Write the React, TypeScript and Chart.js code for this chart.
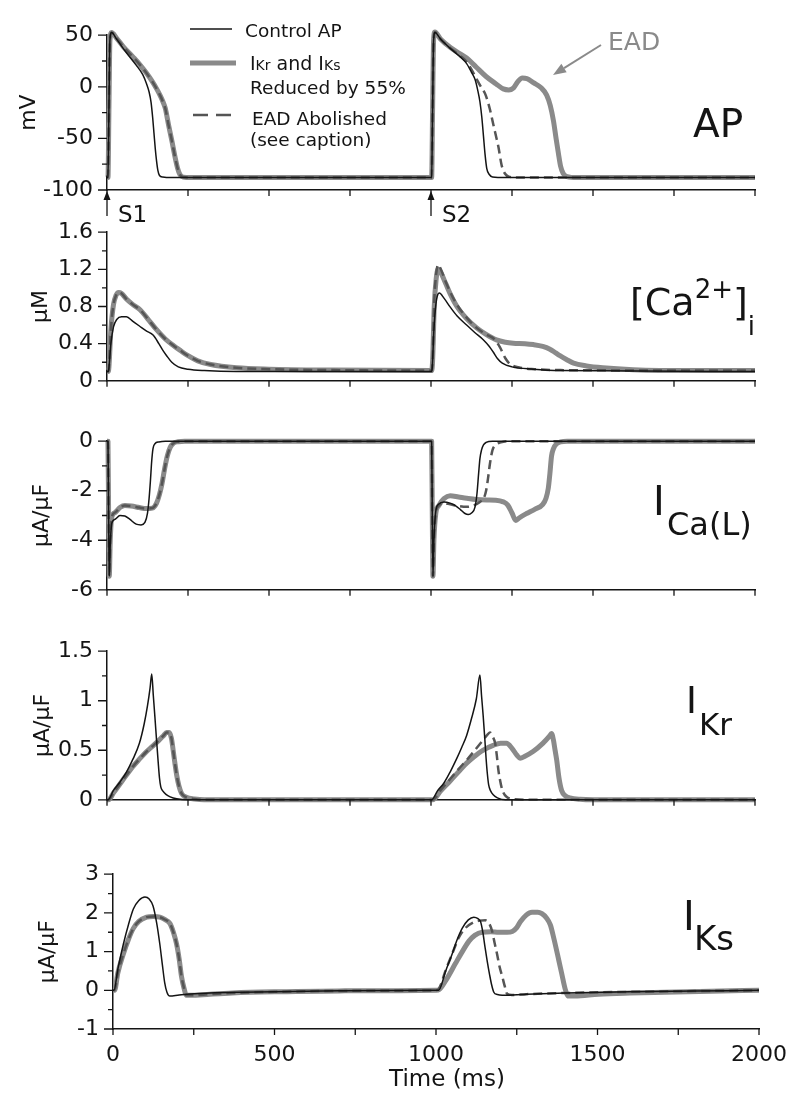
import React, { useEffect, useRef } from "react";
import { Chart, registerables } from "chart.js";

Chart.register(...registerables);

type Pt = [number, number];

// ---------- AP (mV) ----------
const apControl: Pt[] = [
  [0, -88], [3, -88], [6, -20], [9, 45], [14, 52.5], [30, 46], [60, 33], [90, 21], [110, 12], [122, 3],
  [130, -5], [136, -15], [141, -30], [145, -45], [149, -60], [153, -72], [157, -81], [162, -86], [172, -87.5],
  [200, -88], [600, -88], [1000, -88], [1002, -88], [1005, -20], [1008, 45], [1012, 52.5], [1030, 46],
  [1060, 37], [1090, 29], [1110, 22.5], [1125, 14], [1136, 7], [1144, -3], [1151, -14.5], [1157, -30],
  [1162, -48], [1167, -66], [1172, -79], [1180, -85], [1190, -87.5], [1230, -88], [2000, -88],
];
const apReduced: Pt[] = [
  [0, -88], [3, -88], [6, -20], [9, 45], [14, 52.5], [30, 47], [50, 39], [80, 29], [100, 22], [120, 14],
  [140, 5], [155, -3], [165, -9], [172, -14], [180, -21], [190, -37], [200, -52], [210, -68], [218, -79],
  [225, -85], [235, -87.5], [260, -88], [1000, -88], [1002, -88], [1005, -20], [1008, 45], [1012, 53],
  [1030, 46], [1060, 38], [1090, 32], [1110, 28], [1140, 19], [1170, 10], [1200, 3], [1223, -2], [1240, -3],
  [1255, -1], [1268, 5], [1282, 8.5], [1296, 8], [1316, 4], [1340, -1], [1357, -8], [1368, -18], [1378, -33],
  [1386, -50], [1393, -64], [1400, -77], [1408, -84], [1420, -87], [1450, -88], [2000, -88],
];
const apAbolished: Pt[] = [
  [0, -88], [3, -88], [6, -20], [9, 45], [14, 52.5], [30, 47], [50, 39], [80, 29], [100, 22], [120, 14],
  [140, 5], [155, -3], [165, -9], [172, -14], [180, -21], [190, -37], [200, -52], [210, -68], [218, -79],
  [225, -85], [235, -87.5], [260, -88], [1000, -88], [1002, -88], [1005, -20], [1008, 45], [1012, 53],
  [1030, 46], [1060, 37.5], [1090, 30], [1110, 24], [1130, 14], [1145, 5], [1158, -2], [1166, -6],
  [1172, -11], [1182, -22], [1192, -36], [1200, -47], [1208, -58], [1218, -76], [1228, -84], [1240, -87],
  [1270, -88], [2000, -88],
];

// ---------- [Ca2+]i (uM) ----------
const caControl: Pt[] = [
  [0, 0.1], [4, 0.1], [6, 0.14], [12, 0.4], [20, 0.58], [30, 0.66], [45, 0.69], [60, 0.69], [80, 0.64],
  [100, 0.59], [120, 0.54], [143, 0.49], [160, 0.4], [172, 0.33], [184, 0.27], [200, 0.2], [220, 0.15],
  [250, 0.125], [300, 0.11], [400, 0.1], [1000, 0.1], [1002, 0.1], [1004, 0.15], [1009, 0.55], [1015, 0.82],
  [1021, 0.93], [1026, 0.945], [1040, 0.89], [1060, 0.79], [1080, 0.7], [1110, 0.6], [1135, 0.52],
  [1162, 0.44], [1180, 0.37], [1192, 0.31], [1205, 0.24], [1220, 0.19], [1250, 0.15], [1316, 0.125],
  [1400, 0.11], [2000, 0.1],
];
const caReduced: Pt[] = [
  [0, 0.1], [4, 0.1], [6, 0.15], [12, 0.55], [20, 0.82], [28, 0.92], [36, 0.95], [45, 0.94], [60, 0.88],
  [80, 0.82], [102, 0.765], [125, 0.67], [153, 0.55], [180, 0.45], [205, 0.38], [225, 0.33], [250, 0.27],
  [280, 0.215], [320, 0.175], [400, 0.14], [500, 0.125], [700, 0.115], [1000, 0.11], [1002, 0.11],
  [1005, 0.22], [1010, 0.8], [1016, 1.1], [1022, 1.2], [1028, 1.18], [1045, 1.05], [1060, 0.93], [1080, 0.8],
  [1110, 0.67], [1141, 0.57], [1170, 0.5], [1202, 0.44], [1230, 0.415], [1254, 0.405], [1290, 0.4],
  [1316, 0.39], [1345, 0.37], [1367, 0.34], [1385, 0.3], [1398, 0.27], [1418, 0.23], [1440, 0.19],
  [1480, 0.16], [1530, 0.14], [1624, 0.12], [1800, 0.11], [2000, 0.11],
];
const caAbolished: Pt[] = [
  [0, 0.1], [4, 0.1], [6, 0.15], [12, 0.55], [20, 0.82], [28, 0.92], [36, 0.95], [45, 0.94], [60, 0.88],
  [80, 0.82], [102, 0.765], [125, 0.67], [153, 0.55], [180, 0.45], [205, 0.38], [225, 0.33], [250, 0.27],
  [280, 0.215], [320, 0.175], [400, 0.14], [500, 0.125], [700, 0.115], [1000, 0.11], [1002, 0.11],
  [1005, 0.22], [1010, 0.85], [1016, 1.15], [1022, 1.25], [1028, 1.22], [1045, 1.07], [1060, 0.95],
  [1080, 0.82], [1110, 0.68], [1141, 0.57], [1170, 0.5], [1195, 0.45], [1213, 0.36], [1230, 0.24],
  [1244, 0.18], [1270, 0.145], [1320, 0.125], [1400, 0.115], [2000, 0.11],
];

// ---------- ICa(L) (uA/uF) ----------
const icaControl: Pt[] = [
  [0, 0], [3, 0], [5, -3], [7, -5.45], [10, -4.2], [15, -3.3], [25, -3.15], [40, -3.0], [55, -3.02],
  [70, -3.15], [90, -3.35], [105, -3.38], [117, -3.28], [125, -2.9], [130, -2.3], [134, -1.6], [138, -0.8],
  [142, -0.3], [148, -0.1], [160, -0.03], [180, 0], [1000, 0], [1002, 0], [1004, -3], [1006, -5.45],
  [1009, -4.0], [1015, -2.8], [1023, -2.55], [1040, -2.45], [1059, -2.5], [1075, -2.6], [1090, -2.75],
  [1105, -2.92], [1115, -2.96], [1125, -2.9], [1136, -2.65], [1142, -2.1], [1147, -1.3], [1151, -0.7],
  [1156, -0.35], [1162, -0.15], [1170, -0.05], [1190, 0], [2000, 0],
];
const icaReduced: Pt[] = [
  [0, 0], [3, 0], [5, -3], [7, -5.45], [10, -4.0], [15, -3.05], [25, -2.88], [40, -2.68], [55, -2.6],
  [75, -2.62], [100, -2.68], [120, -2.72], [140, -2.7], [153, -2.5], [162, -2.15], [170, -1.7], [178, -1.1],
  [186, -0.6], [195, -0.25], [205, -0.08], [220, -0.02], [240, 0], [1000, 0], [1002, 0], [1004, -3],
  [1006, -5.45], [1009, -4.0], [1015, -2.9], [1023, -2.62], [1040, -2.32], [1059, -2.2], [1085, -2.25],
  [1110, -2.3], [1140, -2.35], [1172, -2.37], [1200, -2.38], [1223, -2.45], [1237, -2.58], [1250, -2.9],
  [1262, -3.2], [1272, -3.1], [1295, -2.92], [1320, -2.75], [1345, -2.55], [1355, -2.3], [1362, -1.9],
  [1367, -1.3], [1372, -0.6], [1378, -0.3], [1388, -0.1], [1400, -0.03], [1420, 0], [2000, 0],
];
const icaAbolished: Pt[] = [
  [0, 0], [3, 0], [5, -3], [7, -5.45], [10, -4.0], [15, -3.05], [25, -2.88], [40, -2.68], [55, -2.6],
  [75, -2.62], [100, -2.68], [120, -2.72], [140, -2.7], [153, -2.5], [162, -2.15], [170, -1.7], [178, -1.1],
  [186, -0.6], [195, -0.25], [205, -0.08], [220, -0.02], [240, 0], [1000, 0], [1002, 0], [1004, -3],
  [1006, -5.45], [1009, -4.0], [1015, -2.9], [1023, -2.62], [1040, -2.5], [1059, -2.55], [1085, -2.62],
  [1110, -2.65], [1130, -2.6], [1151, -2.45], [1163, -2.3], [1170, -2.0], [1176, -1.5], [1182, -0.9],
  [1190, -0.35], [1200, -0.15], [1215, -0.05], [1240, 0], [2000, 0],
];

// ---------- IKr (uA/uF) ----------
const ikrControl: Pt[] = [
  [0, 0], [3, 0], [20, 0.095], [40, 0.18], [60, 0.28], [80, 0.41], [100, 0.57], [115, 0.77], [125, 0.95],
  [133, 1.13], [138, 1.27], [143, 1.05], [148, 0.83], [153, 0.6], [158, 0.38], [162, 0.22], [166, 0.13],
  [172, 0.09], [182, 0.055], [195, 0.03], [215, 0.01], [250, 0], [1000, 0], [1002, 0], [1020, 0.09],
  [1040, 0.17], [1059, 0.28], [1080, 0.42], [1095, 0.53], [1110, 0.65], [1125, 0.82], [1140, 1.02],
  [1151, 1.26], [1156, 1.05], [1161, 0.85], [1166, 0.62], [1170, 0.42], [1174, 0.26], [1178, 0.15],
  [1184, 0.09], [1192, 0.05], [1205, 0.02], [1230, 0], [2000, 0],
];
const ikrReduced: Pt[] = [
  [0, 0], [5, 0], [20, 0.07], [40, 0.16], [60, 0.25], [81, 0.34], [100, 0.41], [120, 0.48], [140, 0.54],
  [160, 0.6], [175, 0.65], [184, 0.68], [192, 0.68], [199, 0.62], [205, 0.48], [210, 0.36], [215, 0.25],
  [222, 0.14], [230, 0.065], [245, 0.025], [270, 0.008], [300, 0], [1000, 0], [1005, 0], [1030, 0.09],
  [1059, 0.19], [1090, 0.3], [1110, 0.37], [1131, 0.43], [1160, 0.5], [1192, 0.55], [1215, 0.57],
  [1233, 0.57], [1250, 0.52], [1265, 0.45], [1275, 0.42], [1290, 0.44], [1316, 0.49], [1345, 0.57],
  [1365, 0.64], [1372, 0.67], [1378, 0.6], [1383, 0.5], [1388, 0.4], [1395, 0.22], [1403, 0.095],
  [1415, 0.04], [1429, 0.02], [1460, 0.005], [1500, 0], [2000, 0],
];
const ikrAbolished: Pt[] = [
  [0, 0], [5, 0], [20, 0.07], [40, 0.16], [60, 0.25], [81, 0.34], [100, 0.41], [120, 0.48], [140, 0.54],
  [160, 0.6], [175, 0.65], [184, 0.68], [192, 0.68], [199, 0.62], [205, 0.48], [210, 0.36], [215, 0.25],
  [222, 0.14], [230, 0.065], [245, 0.025], [270, 0.008], [300, 0], [1000, 0], [1005, 0], [1030, 0.1],
  [1059, 0.21], [1085, 0.31], [1110, 0.4], [1135, 0.5], [1160, 0.6], [1175, 0.66], [1182, 0.68],
  [1190, 0.64], [1198, 0.57], [1203, 0.45], [1208, 0.3], [1213, 0.2], [1220, 0.1], [1233, 0.03],
  [1260, 0.005], [1300, 0], [2000, 0],
];

// ---------- IKs (uA/uF) ----------
const iksControl: Pt[] = [
  [0, 0], [3, 0], [15, 0.55], [32, 1.19], [48, 1.7], [63, 2.1], [80, 2.32], [99, 2.41], [112, 2.36],
  [124, 2.18], [135, 1.75], [145, 1.19], [153, 0.65], [160, 0.2], [167, -0.05], [176, -0.15], [200, -0.13],
  [227, -0.1], [300, -0.07], [400, -0.05], [550, -0.03], [700, -0.01], [1000, 0], [1008, 0], [1030, 0.5],
  [1050, 0.94], [1065, 1.3], [1081, 1.6], [1100, 1.82], [1117, 1.89], [1130, 1.85], [1138, 1.77],
  [1145, 1.5], [1152, 1.1], [1158, 0.78], [1166, 0.4], [1172, 0.15], [1179, -0.05], [1190, -0.11],
  [1205, -0.13], [1280, -0.1], [1400, -0.07], [1600, -0.04], [1800, -0.02], [2000, 0],
];
const iksReduced: Pt[] = [
  [0, 0], [5, 0], [15, 0.45], [32, 0.94], [48, 1.32], [63, 1.6], [80, 1.78], [104, 1.89], [125, 1.91],
  [145, 1.89], [160, 1.83], [176, 1.73], [187, 1.5], [197, 1.19], [205, 0.8], [212, 0.36], [220, 0.05],
  [227, -0.13], [240, -0.13], [300, -0.1], [370, -0.07], [500, -0.04], [700, -0.015], [1000, 0], [1010, 0.02],
  [1030, 0.25], [1060, 0.69], [1080, 0.98], [1102, 1.27], [1120, 1.42], [1143, 1.5], [1170, 1.51],
  [1194, 1.5], [1220, 1.5], [1236, 1.52], [1250, 1.62], [1261, 1.77], [1280, 1.95], [1297, 2.02],
  [1315, 2.02], [1328, 1.98], [1342, 1.87], [1354, 1.69], [1366, 1.3], [1380, 0.78], [1390, 0.4],
  [1400, 0.03], [1410, -0.15], [1430, -0.15], [1503, -0.1], [1600, -0.07], [1708, -0.05], [1850, -0.025],
  [2000, 0],
];
const iksAbolished: Pt[] = [
  [0, 0], [5, 0], [15, 0.45], [32, 0.94], [48, 1.32], [63, 1.6], [80, 1.78], [104, 1.89], [125, 1.91],
  [145, 1.89], [160, 1.83], [176, 1.73], [187, 1.5], [197, 1.19], [205, 0.8], [212, 0.36], [220, 0.05],
  [227, -0.13], [240, -0.13], [300, -0.1], [370, -0.07], [500, -0.04], [700, -0.015], [1000, 0], [1010, 0.05],
  [1030, 0.52], [1050, 0.94], [1070, 1.35], [1090, 1.6], [1115, 1.75], [1135, 1.8], [1153, 1.81],
  [1165, 1.72], [1174, 1.52], [1182, 1.2], [1189, 0.94], [1197, 0.6], [1205, 0.36], [1213, 0.1],
  [1220, -0.09], [1235, -0.12], [1280, -0.1], [1400, -0.07], [1600, -0.04], [1800, -0.02], [2000, 0],
];

// ---------- annotations / axes ----------
const stimTimes = [0, 1000];
const stimLabels = ["S1", "S2"];
const timeMin = 0;
const timeMax = 2000;
const timeStep = 250;
const timeLabelStep = 500;

const FONT = "'DejaVu Sans', 'Liberation Sans', Arial, sans-serif";
const INK = "#141414";
const GRAY = "#8a8a8a";
const DARK = "#555555";
const PAD_TOP = 20;

type Part = { t: string; size: number; dy?: number; x?: number };

function rich(ctx: CanvasRenderingContext2D, x: number, y: number, parts: Part[], color = INK, align: CanvasTextAlign = "left") {
  ctx.save();
  ctx.fillStyle = color;
  ctx.textBaseline = "alphabetic";
  let cx = x;
  if (align === "center") {
    let w = 0;
    for (const p of parts) {
      ctx.font = `${p.size}px ${FONT}`;
      w += ctx.measureText(p.t).width;
    }
    cx = x - w / 2;
  }
  ctx.textAlign = "left";
  for (const p of parts) {
    if (p.x !== undefined) cx = p.x;
    ctx.font = `${p.size}px ${FONT}`;
    ctx.fillText(p.t, cx, y + (p.dy || 0));
    cx += ctx.measureText(p.t).width;
  }
  ctx.restore();
}

function seg(ctx: CanvasRenderingContext2D, x1: number, y1: number, x2: number, y2: number, color: string, w: number, dash: number[] = []) {
  ctx.save();
  ctx.strokeStyle = color;
  ctx.lineWidth = w;
  ctx.setLineDash(dash);
  ctx.beginPath();
  ctx.moveTo(x1, y1);
  ctx.lineTo(x2, y2);
  ctx.stroke();
  ctx.restore();
}

function arrow(ctx: CanvasRenderingContext2D, x1: number, y1: number, x2: number, y2: number, color: string, w: number, head: number, half: number) {
  const a = Math.atan2(y2 - y1, x2 - x1);
  const bx = x2 - head * Math.cos(a);
  const by = y2 - head * Math.sin(a);
  ctx.save();
  ctx.strokeStyle = color;
  ctx.fillStyle = color;
  ctx.lineWidth = w;
  ctx.beginPath();
  ctx.moveTo(x1, y1);
  ctx.lineTo(bx, by);
  ctx.stroke();
  ctx.beginPath();
  ctx.moveTo(x2, y2);
  ctx.lineTo(bx + half * Math.sin(a), by - half * Math.cos(a));
  ctx.lineTo(bx - half * Math.sin(a), by + half * Math.cos(a));
  ctx.closePath();
  ctx.fill();
  ctx.restore();
}

const isMajor = (v: number, m: number) => Math.abs(v / m - Math.round(v / m)) < 1e-6;
const fmt = (v: number) => String(parseFloat(v.toFixed(2)) + 0);

interface Panel {
  id: string;
  top: number;
  bottom: number;
  left: number;
  right: number;
  extra: number;
  yMin: number;
  yMax: number;
  yStep: number;
  yMajor: number;
  yTitle: string;
  titlePad: number;
  control: Pt[];
  reduced: Pt[];
  abolished: Pt[];
  xLabels: boolean;
  draw: (ctx: CanvasRenderingContext2D, chart: Chart, oy: number) => void;
}

const panels: Panel[] = [
  {
    id: "ap", top: 28, bottom: 190, left: 107, right: 755, extra: 35,
    yMin: -100, yMax: 50, yStep: 25, yMajor: 50, yTitle: "mV", titlePad: 16,
    control: apControl, reduced: apReduced, abolished: apAbolished, xLabels: false,
    draw: (ctx, chart, oy) => {
      const Y = (v: number) => v - oy;
      seg(ctx, 190, Y(29), 232, Y(29), INK, 1.5);
      seg(ctx, 190, Y(63), 236, Y(63), GRAY, 5);
      seg(ctx, 193, Y(115), 234, Y(115), DARK, 2.5, [15, 8]);
      rich(ctx, 245, Y(37), [{ t: "Control AP", size: 18.5 }]);
      rich(ctx, 250, Y(70), [
        { t: "I", size: 19 }, { t: "Kr", size: 14 }, { t: " and I", size: 19 }, { t: "Ks", size: 14 },
      ]);
      rich(ctx, 250, Y(94), [{ t: "Reduced by 55%", size: 18.5 }]);
      rich(ctx, 252, Y(125), [{ t: "EAD Abolished", size: 18.5 }]);
      rich(ctx, 250, Y(146), [{ t: "(see caption)", size: 18.5 }]);
      rich(ctx, 608, Y(50), [{ t: "EAD", size: 25 }], GRAY);
      arrow(ctx, 601, Y(45), 553, Y(75), GRAY, 2, 13, 5);
      rich(ctx, 693, Y(137), [{ t: "AP", size: 39 }]);
      const xs = chart.scales.x;
      stimTimes.forEach((t, i) => {
        const x = xs.getPixelForValue(t);
        arrow(ctx, x, Y(216), x, Y(191), INK, 1.3, 9, 3.5);
        rich(ctx, x + 11, Y(222), [{ t: stimLabels[i], size: 23 }]);
      });
    },
  },
  {
    id: "ca", top: 225, bottom: 388, left: 107, right: 755, extra: 20,
    yMin: 0, yMax: 1.6, yStep: 0.2, yMajor: 0.4, yTitle: "\u03bcM", titlePad: 28,
    control: caControl, reduced: caReduced, abolished: caAbolished, xLabels: false,
    draw: (ctx, chart, oy) => {
      const Y = (v: number) => v - oy;
      rich(ctx, 630, Y(315), [
        { t: "[Ca", size: 38 }, { t: "2+", size: 26, dy: -17 }, { t: "]", size: 38 }, { t: "i", size: 26, dy: 20 },
      ]);
    },
  },
  {
    id: "ica", top: 434, bottom: 597, left: 107, right: 755, extra: 20,
    yMin: -6, yMax: 0, yStep: 1, yMajor: 2, yTitle: "\u03bcA/\u03bcF", titlePad: 29,
    control: icaControl, reduced: icaReduced, abolished: icaAbolished, xLabels: false,
    draw: (ctx, chart, oy) => {
      const Y = (v: number) => v - oy;
      rich(ctx, 653, Y(515), [{ t: "I", size: 40 }]);
      rich(ctx, 667, Y(535), [{ t: "Ca(L)", size: 32 }]);
    },
  },
  {
    id: "ikr", top: 644, bottom: 807, left: 107, right: 755, extra: 20,
    yMin: 0, yMax: 1.5, yStep: 0.25, yMajor: 0.5, yTitle: "\u03bcA/\u03bcF", titlePad: 30,
    control: ikrControl, reduced: ikrReduced, abolished: ikrAbolished, xLabels: false,
    draw: (ctx, chart, oy) => {
      const Y = (v: number) => v - oy;
      rich(ctx, 686, Y(713), [{ t: "I", size: 37 }]);
      rich(ctx, 699, Y(735), [{ t: "Kr", size: 31 }]);
    },
  },
  {
    id: "iks", top: 867, bottom: 1029, left: 113, right: 761, extra: 72,
    yMin: -1, yMax: 3, yStep: 0.5, yMajor: 1, yTitle: "\u03bcA/\u03bcF", titlePad: 35,
    control: iksControl, reduced: iksReduced, abolished: iksAbolished, xLabels: true,
    draw: (ctx, chart, oy) => {
      const Y = (v: number) => v - oy;
      rich(ctx, 683, Y(930), [{ t: "I", size: 40 }]);
      rich(ctx, 694, Y(950), [{ t: "Ks", size: 34 }]);
      rich(ctx, 447, Y(1086), [{ t: "Time (ms)", size: 23 }], INK, "center");
    },
  },
];

function drawTicks(c: Chart, p: Panel) {
  const ctx = c.ctx;
  const xs: any = c.scales.x;
  const ys: any = c.scales.y;
  ctx.save();
  ctx.strokeStyle = INK;
  ctx.lineWidth = 1.3;
  ctx.beginPath();
  for (const t of ys.ticks) {
    const py = ys.getPixelForValue(t.value);
    const len = isMajor(t.value, p.yMajor) ? 9 : 5;
    ctx.moveTo(ys.right, py);
    ctx.lineTo(ys.right - len, py);
  }
  for (const t of xs.ticks) {
    const px = xs.getPixelForValue(t.value);
    ctx.moveTo(px, xs.top);
    ctx.lineTo(px, xs.top + 6);
  }
  ctx.stroke();
  ctx.restore();
}

function PanelChart({ p }: { p: Panel }) {
  const ref = useRef<HTMLCanvasElement>(null);
  const canvasTop = p.top - PAD_TOP;
  const height = p.bottom - p.top + PAD_TOP + p.extra;

  useEffect(() => {
    const mk = (pts: Pt[], extra: any) => ({
      data: pts.map(([x, y]) => ({ x, y })),
      pointRadius: 0,
      fill: false,
      cubicInterpolationMode: "monotone",
      borderJoinStyle: "round",
      clip: false,
      ...extra,
    });
    const tickFont = { family: FONT, size: 22 };
    const chart = new Chart(ref.current as HTMLCanvasElement, {
      type: "line",
      data: {
        datasets: [
          mk(p.control, { label: "Control AP", borderColor: INK, borderWidth: 1.5, order: 0 }),
          mk(p.abolished, { label: "EAD Abolished", borderColor: DARK, borderWidth: 2.5, borderDash: [9, 5], order: 1 }),
          mk(p.reduced, { label: "IKr and IKs Reduced by 55%", borderColor: GRAY, borderWidth: 5, order: 2 }),
        ],
      },
      options: {
        responsive: false,
        maintainAspectRatio: false,
        animation: false,
        events: [],
        layout: { padding: { top: PAD_TOP, bottom: 0, left: 0, right: 800 - p.right } },
        plugins: { legend: { display: false }, tooltip: { enabled: false }, title: { display: false } },
        scales: {
          x: {
            type: "linear",
            min: timeMin,
            max: timeMax,
            ticks: {
              stepSize: timeStep,
              autoSkip: false,
              display: p.xLabels,
              maxRotation: 0,
              padding: 13,
              font: tickFont,
              color: INK,
              callback: (v: any) => (isMajor(Number(v), timeLabelStep) ? String(v) : ""),
            },
            grid: { display: false, drawTicks: false },
            border: { display: true, color: INK, width: 1.5 },
            afterFit: (s: any) => {
              s.height = p.extra;
            },
          },
          y: {
            type: "linear",
            min: p.yMin,
            max: p.yMax,
            ticks: {
              stepSize: p.yStep,
              autoSkip: false,
              padding: 14,
              font: tickFont,
              color: INK,
              callback: (v: any) => (isMajor(Number(v), p.yMajor) ? fmt(Number(v)) : ""),
            },
            grid: { display: false, drawTicks: false },
            border: { display: true, color: INK, width: 1.5 },
            title: {
              display: true,
              text: p.yTitle,
              color: INK,
              font: { family: FONT, size: 22 },
              padding: { top: p.titlePad, bottom: 0 },
            },
            afterFit: (s: any) => {
              s.width = p.left;
            },
          },
        },
      } as any,
      plugins: [
        {
          id: "decor-" + p.id,
          afterDraw(c: Chart) {
            drawTicks(c, p);
            p.draw(c.ctx, c, canvasTop);
          },
        },
      ],
    });
    return () => chart.destroy();
  }, []);

  return (
    <canvas
      ref={ref}
      width={800}
      height={height}
      style={{ position: "absolute", left: 0, top: canvasTop, width: 800, height, display: "block" }}
    />
  );
}

export default function App() {
  return (
    <div style={{ position: "absolute", left: 0, top: 0, width: 800, height: 1101, overflow: "hidden", background: "#fff" }}>
      {panels.map((p) => (
        <PanelChart key={p.id} p={p} />
      ))}
    </div>
  );
}
